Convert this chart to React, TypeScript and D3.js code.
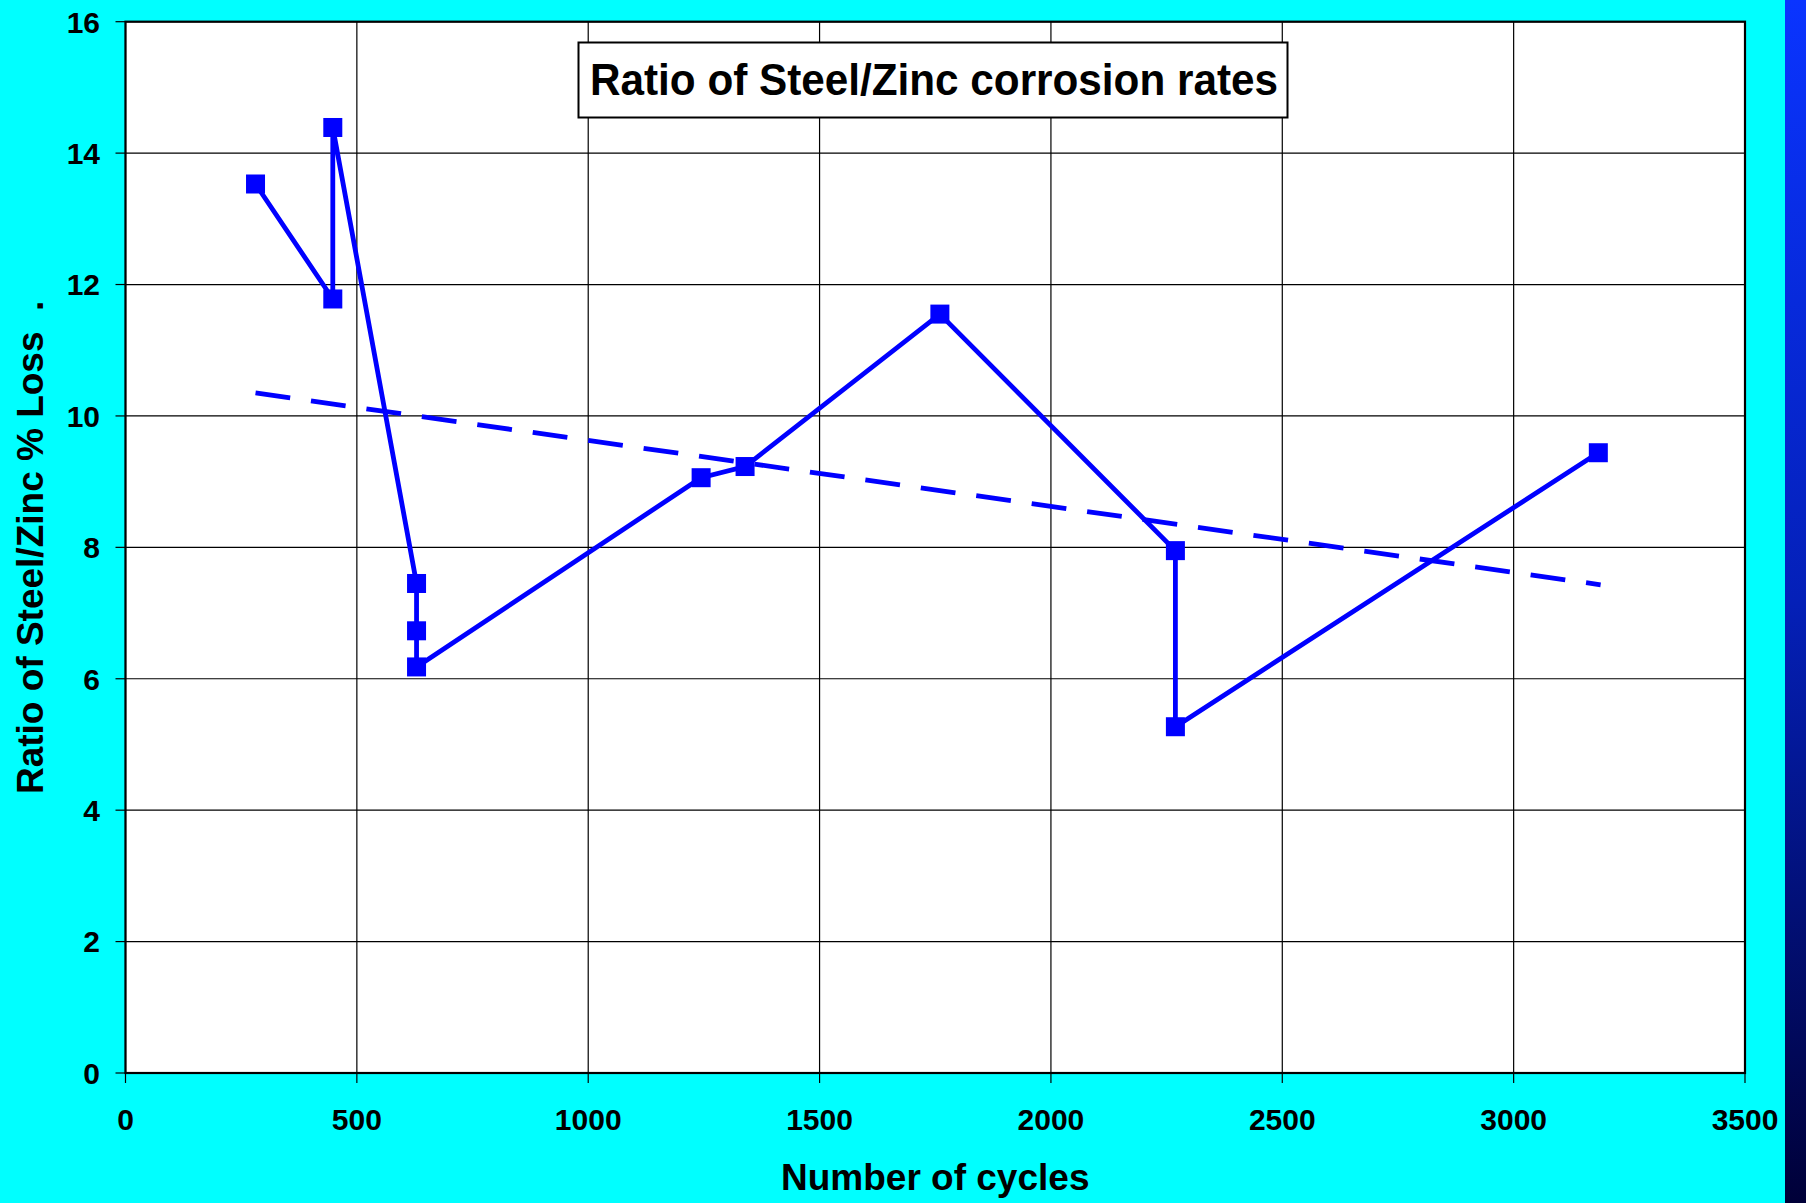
import React from "react";
import * as d3 from "d3";

const cycles = [281, 448, 448, 629, 629, 629, 1244, 1339, 1760, 2269, 2269, 3183];
const ratios = [13.53, 11.78, 14.39, 7.45, 6.73, 6.18, 9.06, 9.23, 11.55, 7.95, 5.27, 9.44];
const trendX = [281, 3188];
const trendY = [10.35, 7.43];
const xTicks = [0, 500, 1000, 1500, 2000, 2500, 3000, 3500];
const yTicks = [0, 2, 4, 6, 8, 10, 12, 14, 16];
const title = "Ratio of Steel/Zinc corrosion rates";
const xLabel = "Number of cycles";
const yLabel = "Ratio of Steel/Zinc % Loss \u00a0.";

const W = 1806;
const H = 1203;
const L = 125.5, R = 1745, T = 21.7, B = 1073;
const FONT = "'Liberation Sans', Arial, Helvetica, sans-serif";

export default function App() {
  const x = d3.scaleLinear().domain([0, 3500]).range([L, R]);
  const y = d3.scaleLinear().domain([0, 16]).range([B, T]);
  const pts = cycles.map((c, i) => [c, ratios[i]] as [number, number]);
  const line = d3.line<[number, number]>().x(d => x(d[0])).y(d => y(d[1]));
  const trend = trendX.map((v, i) => [v, trendY[i]] as [number, number]);
  const ms = 19;
  return (
    <svg width={W} height={H} style={{ position: "absolute", left: 0, top: 0, display: "block" }} fontFamily={FONT}>
      <defs>
        <linearGradient id="sideGrad" x1="0" y1="0" x2="0" y2="1">
          <stop offset="0" stopColor="#0a34ff" />
          <stop offset="0.5" stopColor="#0420b8" />
          <stop offset="1" stopColor="#000038" />
        </linearGradient>
      </defs>
      <rect x={0} y={0} width={W} height={H} fill="#00ffff" />
      <rect x={1785} y={0} width={W - 1785} height={H} fill="url(#sideGrad)" />
      <rect x={L} y={T} width={R - L} height={B - T} fill="#ffffff" />
      {yTicks.map(t => (
        <line key={"gy" + t} x1={L} x2={R} y1={y(t)} y2={y(t)} stroke="#000" strokeWidth={1.2} />
      ))}
      {xTicks.map(t => (
        <line key={"gx" + t} x1={x(t)} x2={x(t)} y1={T} y2={B} stroke="#000" strokeWidth={1.2} />
      ))}
      <rect x={L} y={T} width={R - L} height={B - T} fill="none" stroke="#000" strokeWidth={2.2} />
      {yTicks.map(t => (
        <g key={"ty" + t}>
          <line x1={L - 10} x2={L} y1={y(t)} y2={y(t)} stroke="#000" strokeWidth={1.2} />
          <text x={100} y={y(t)} dy="0.36em" textAnchor="end" fontSize={30} fontWeight="bold">{t}</text>
        </g>
      ))}
      {xTicks.map(t => (
        <g key={"tx" + t}>
          <line x1={x(t)} x2={x(t)} y1={B} y2={B + 10} stroke="#000" strokeWidth={1.2} />
          <text x={x(t)} y={1130} textAnchor="middle" fontSize={30} fontWeight="bold">{t}</text>
        </g>
      ))}
      <path d={line(trend) || ""} fill="none" stroke="#0000ff" strokeWidth={4.8} strokeDasharray="35,21" />
      <path d={line(pts) || ""} fill="none" stroke="#0000ff" strokeWidth={4.8} strokeLinejoin="miter" />
      {pts.map((p, i) => (
        <rect key={"m" + i} x={x(p[0]) - ms / 2} y={y(p[1]) - ms / 2} width={ms} height={ms} fill="#0000ff" />
      ))}
      <rect x={578.5} y={42.5} width={709} height={75} fill="#ffffff" stroke="#000" strokeWidth={2} />
      <text x={934} y={95} textAnchor="middle" fontSize={45} fontWeight="bold" textLength={688} lengthAdjust="spacingAndGlyphs">{title}</text>
      <text x={(L + R) / 2} y={1190} textAnchor="middle" fontSize={37} fontWeight="bold">{xLabel}</text>
      <text transform={`translate(43,${(T + B) / 2}) rotate(-90)`} textAnchor="middle" fontSize={37} fontWeight="bold" style={{ whiteSpace: "pre" }}>{yLabel}</text>
    </svg>
  );
}
